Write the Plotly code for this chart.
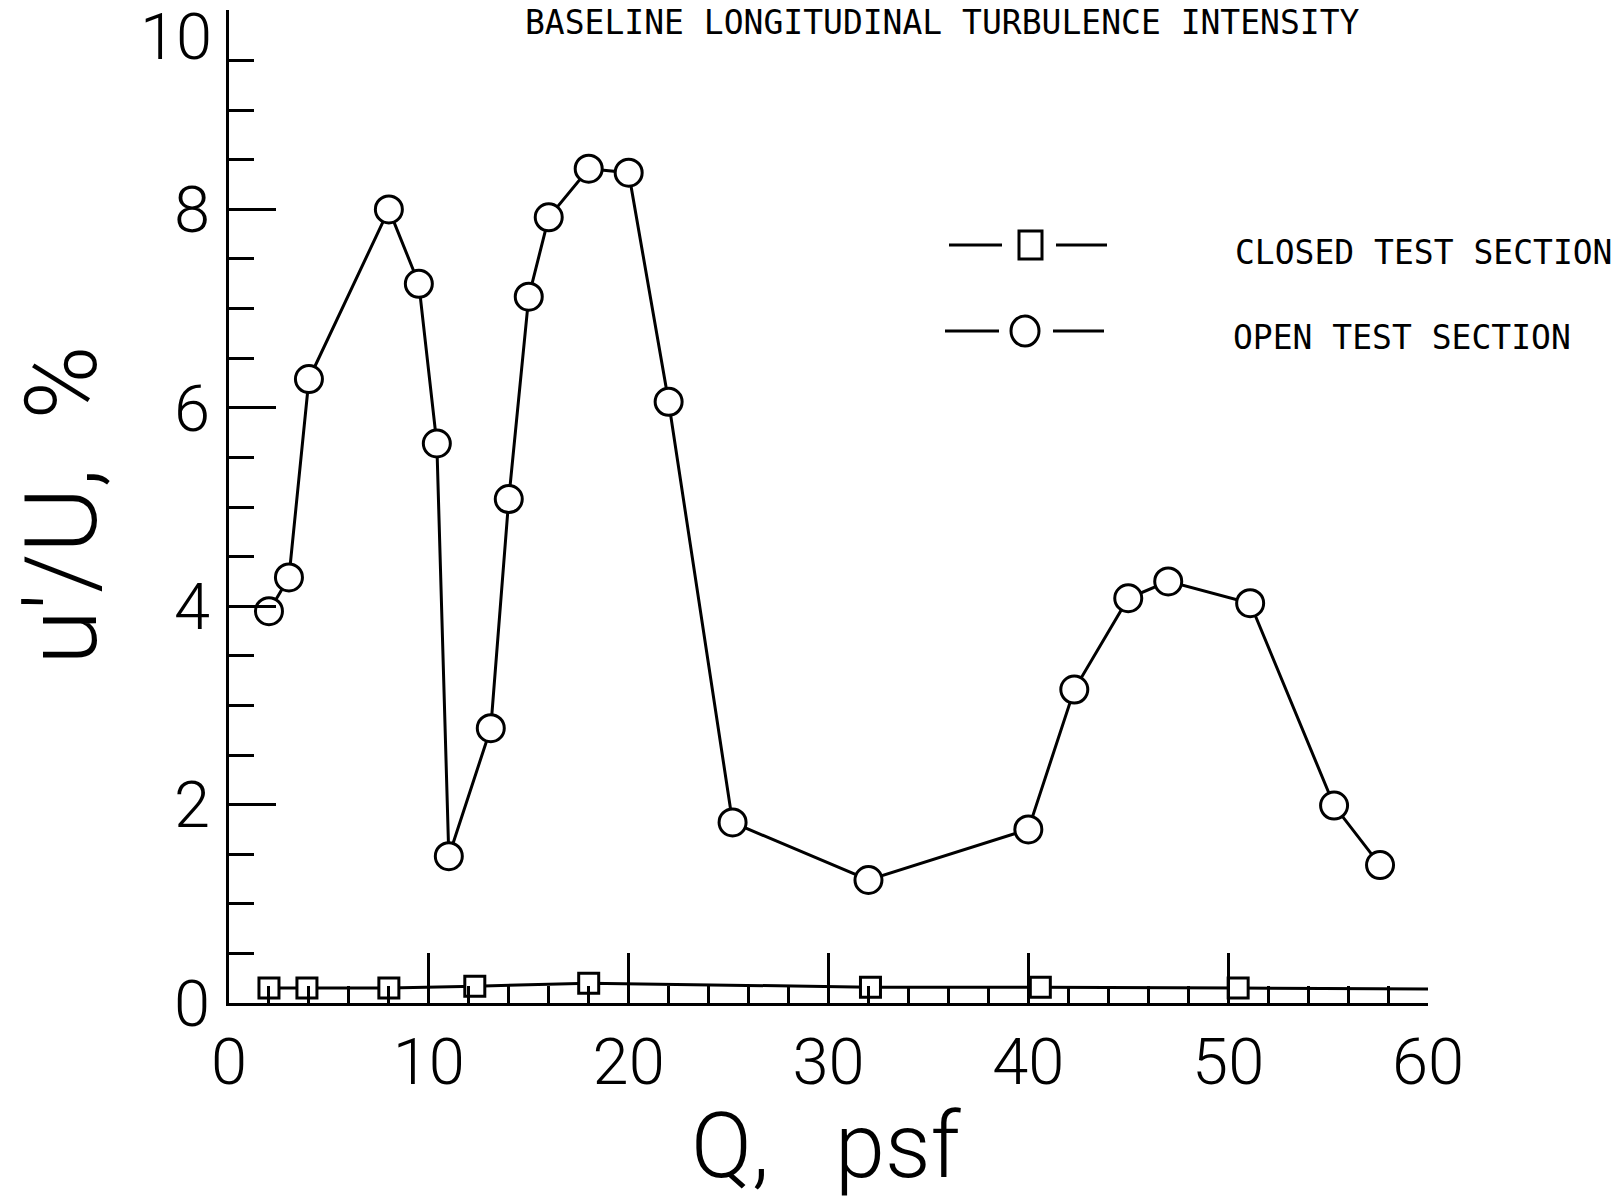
import plotly.graph_objects as go

# ---------------- data ----------------
open_q = [2.0, 3.0, 4.0, 8.0, 9.5, 10.4, 11.0, 13.1, 14.0, 15.0, 16.0, 18.0,
          20.0, 22.0, 25.2, 32.0, 40.0, 42.3, 45.0, 47.0, 51.1, 55.3, 57.6]
open_u = [3.95, 4.29, 6.29, 8.0, 7.25, 5.64, 1.48, 2.77, 5.08, 7.12, 7.92, 8.41,
          8.37, 6.06, 1.82, 1.24, 1.75, 3.16, 4.08, 4.25, 4.03, 1.99, 1.39]

closed_q = [2.0, 3.9, 8.0, 12.3, 18.0, 32.1, 40.6, 50.5, 60.7]
closed_u = [0.15, 0.15, 0.15, 0.17, 0.20, 0.16, 0.16, 0.15, 0.14]

title_text = "BASELINE LONGITUDINAL TURBULENCE INTENSITY"
x_title = "Q,\u00a0\u00a0 psf"
y_title = "u'/U,\u00a0 %"
legend_labels = ["CLOSED TEST SECTION", "OPEN TEST SECTION"]
x_ticks = [0, 10, 20, 30, 40, 50, 60]
y_ticks = [0, 2, 4, 6, 8, 10]

# ---------------- layout geometry (pixels) ----------------
W, H = 1623, 1201
L, R, T, B = 229, 1428, 10, 1003


def px(X):
    return (X - L) / (R - L)


def py(Y):
    return (B - Y) / (B - T)


INK = "black"
SANS = "Roboto, Liberation Sans, Arial, sans-serif"
MONO = "DejaVu Sans Mono, Liberation Mono, monospace"
LIGHT = 300
TICK_SIZE = 65

fig = go.Figure()
fig.add_trace(go.Scatter(
    x=closed_q, y=closed_u, mode="lines+markers", name=legend_labels[0],
    line=dict(color=INK, width=3),
    marker=dict(symbol="square", size=20, color="white",
                line=dict(color=INK, width=3)),
    cliponaxis=False, showlegend=False))
fig.add_trace(go.Scatter(
    x=open_q, y=open_u, mode="lines+markers", name=legend_labels[1],
    line=dict(color=INK, width=3),
    marker=dict(symbol="circle", size=27, color="white",
                line=dict(color=INK, width=3)),
    cliponaxis=False, showlegend=False))

fig.update_layout(
    width=W, height=H,
    margin=dict(l=L, r=W - R, t=T, b=H - B, pad=0, autoexpand=False),
    paper_bgcolor="white", plot_bgcolor="white",
    showlegend=False,
    font=dict(family=SANS, color=INK),
)

fig.update_xaxes(
    range=[0, 60], showgrid=False, zeroline=False, automargin=False,
    showline=True, linecolor=INK, linewidth=3,
    tickmode="array", tickvals=x_ticks,
    ticks="inside", ticklen=50, tickwidth=3, tickcolor=INK,
    minor=dict(tickmode="linear", tick0=0, dtick=2, ticks="inside",
               ticklen=17, tickwidth=3, tickcolor=INK, showgrid=False),
    tickfont=dict(family=SANS, size=TICK_SIZE, color=INK, weight=LIGHT),
    ticklabelstandoff=0, ticklabeloverflow="allow",
)
# the top label (10) sits just below its tick in the reference, so it is
# written as an annotation instead of a regular tick label
y_ticktext = [str(v) for v in y_ticks[:-1]] + [""]
fig.update_yaxes(
    range=[0, 10.01], showgrid=False, zeroline=False, automargin=False,
    showline=True, linecolor=INK, linewidth=3,
    tickmode="array", tickvals=y_ticks, ticktext=y_ticktext,
    ticks="inside", ticklen=47, tickwidth=3, tickcolor=INK,
    minor=dict(tickmode="linear", tick0=0, dtick=0.5, ticks="inside",
               ticklen=25, tickwidth=3, tickcolor=INK, showgrid=False),
    tickfont=dict(family=SANS, size=TICK_SIZE, color=INK, weight=LIGHT),
    ticklabelstandoff=3, ticklabeloverflow="allow",
)

annotations = [
    dict(text=str(y_ticks[-1]), x=px(214), y=py(37), xref="paper", yref="paper",
         xanchor="right", yanchor="middle", showarrow=False,
         font=dict(family=SANS, size=TICK_SIZE, color=INK, weight=LIGHT)),
    dict(text=title_text, x=px(942), y=py(22), xref="paper", yref="paper",
         xanchor="center", yanchor="middle", showarrow=False,
         font=dict(family=MONO, size=33, color=INK)),
    dict(text=x_title, x=px(826), y=py(1146), xref="paper", yref="paper",
         xanchor="center", yanchor="middle", showarrow=False,
         font=dict(family=SANS, size=90, color=INK, weight=LIGHT)),
    dict(text=y_title, x=px(62), y=py(505), xref="paper", yref="paper",
         xanchor="center", yanchor="middle", showarrow=False, textangle=-90,
         font=dict(family=SANS, size=100, color=INK, weight=LIGHT)),
    dict(text=legend_labels[0], x=px(1233), y=py(253), xref="paper", yref="paper",
         xanchor="left", yanchor="middle", showarrow=False,
         font=dict(family=MONO, size=33, color=INK)),
    dict(text=legend_labels[1], x=px(1231), y=py(338), xref="paper", yref="paper",
         xanchor="left", yanchor="middle", showarrow=False,
         font=dict(family=MONO, size=33, color=INK)),
]
fig.update_layout(annotations=annotations)

# legend keys drawn as decorations (paper coordinates)
shapes = []
for (x0, x1, yy) in [(949, 1002, 245), (1056, 1107, 245), (945, 999, 331), (1053, 1104, 331)]:
    shapes.append(dict(type="line", xref="paper", yref="paper",
                       x0=px(x0), x1=px(x1), y0=py(yy), y1=py(yy),
                       line=dict(color=INK, width=3)))
shapes.append(dict(type="rect", xref="paper", yref="paper",
                   x0=px(1019), x1=px(1042), y0=py(259), y1=py(231),
                   fillcolor="white", line=dict(color=INK, width=3)))
shapes.append(dict(type="circle", xref="paper", yref="paper",
                   x0=px(1011), x1=px(1039), y0=py(346), y1=py(316),
                   fillcolor="white", line=dict(color=INK, width=3)))
fig.update_layout(shapes=shapes)

fig.write_html("out.html")
